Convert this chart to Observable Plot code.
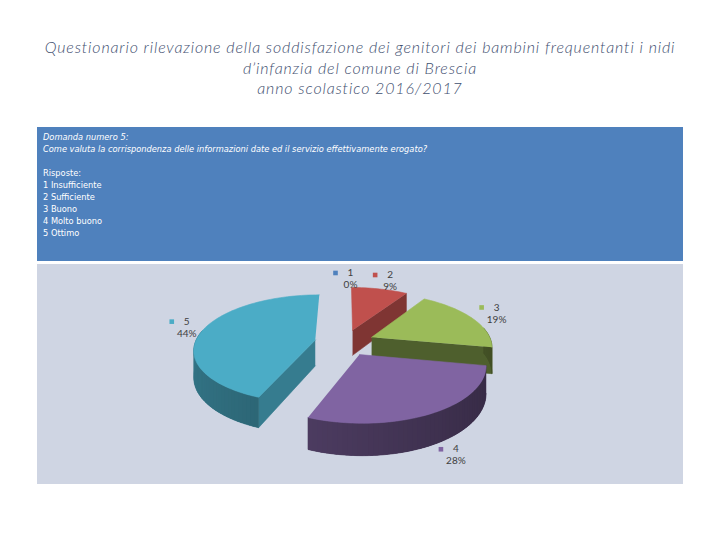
<!DOCTYPE html>
<html><head><meta charset="utf-8">
<script src="https://cdn.jsdelivr.net/npm/d3@7"></script>
<script src="https://cdn.jsdelivr.net/npm/@observablehq/plot@0.6"></script>
<style>
body{margin:0;width:720px;height:540px;background:#fff;position:relative;overflow:hidden;}
#title{position:absolute;top:37px;left:0;width:720px;text-align:center;font-family:Lato,"Open Sans",sans-serif;font-style:italic;font-weight:300;font-size:16px;letter-spacing:0.85px;line-height:20.5px;color:#3F5070;}
#header{position:absolute;left:37px;top:127px;width:646px;height:134px;background:#4F81BD;color:#fff;font-family:"Liberation Sans Narrow","DejaVu Sans Condensed",sans-serif;font-size:9.2px;line-height:12px;padding:4px 6px;box-sizing:border-box;}
#header .q{font-style:italic;}
#chart{position:absolute;left:37px;top:264px;}
</style></head><body>
<div id="title"></div><div id="header"></div><div id="chart"></div>
<script>
const titleLines = [
  "Questionario rilevazione della soddisfazione dei genitori dei bambini frequentanti i nidi",
  "d’infanzia del comune di Brescia",
  "anno scolastico 2016/2017"
];
const questionLines = [
  "Domanda numero 5:",
  "Come valuta la corrispondenza delle informazioni date ed il servizio effettivamente erogato?"
];
const answersHeading = "Risposte:";
const answerLabels = ["1 Insufficiente","2 Sufficiente","3 Buono","4 Molto buono","5 Ottimo"];

const categories = ["1","2","3","4","5"];
const percents = [0, 9, 19, 28, 44];
const percentLabels = ["0%","9%","19%","28%","44%"];
const sliceColors = ["#4F81BD","#C0504D","#9BBB59","#8064A2","#4BACC6"];

// text blocks
document.getElementById("title").innerHTML = titleLines.map(t => `<div>${t}</div>`).join("");
document.getElementById("header").innerHTML =
  questionLines.map(t => `<div class="q">${t}</div>`).join("") +
  `<div>&nbsp;</div><div>${answersHeading}</div>` +
  answerLabels.map(t => `<div>${t}</div>`).join("");

// 3D exploded pie geometry (perspective)
const W = 646, H = 220;
const cx = 307, cy = 78;            // pie centre inside the svg
const pxPerU = 120, pxPerV = 53.2;  // scale factors
const D = 6.2, explode = 0.25, thick = 0.49;
const proj = (X, Z, down) => { const d = D + Z; return [X * D / d, (Z - (down ? thick : 0)) * D / d]; };
const shade = (c, k) => d3.interpolateRgb(c, "#000")(k);

const arcs = d3.pie().sort(null).value(d => d)(percents);
const slices = arcs.map((a, i) => {
  const m = (a.startAngle + a.endAngle) / 2;
  return {i, a: a.startAngle, b: a.endAngle, m, ox: explode * Math.sin(m), oz: explode * Math.cos(m)};
});

let pid = 0;
function poly(target, pts, fill, stroked = true) {
  const id = pid++;
  for (const [x, y] of pts) target.push({id, x, y, fill, stroke: stroked ? fill : "none"});
}
const pt = (s, r, t, down) => proj(s.ox + r * Math.sin(t), s.oz + r * Math.cos(t), down);

const all = [];
const order = slices.filter(s => s.b - s.a > 1e-6).sort((p, q) => q.oz - p.oz);
for (const s of order) {
  const col = sliceColors[s.i];
  // radial faces
  const radial = (t, nz) => {
    poly(all, [pt(s, 0, t, false), pt(s, 1, t, false), pt(s, 1, t, true), pt(s, 0, t, true)],
         shade(col, Math.max(0.18, 0.15 - 0.35 * nz)));
  };
  if (Math.sin(s.a) < -1e-6) radial(s.a, Math.sin(s.a));
  if (Math.sin(s.b) > 1e-6) radial(s.b, -Math.sin(s.b));
  // outer wall: base band, then overlapping shading segments
  const n = Math.max(2, Math.ceil((s.b - s.a) / (Math.PI / 90)));
  const step = (s.b - s.a) / n;
  const ts = d3.range(n + 1).map(j => s.a + step * j).filter(t => Math.cos(t) < 0.2);
  if (ts.length > 1) {
    const band = ts.map(t => pt(s, 1, t, false)).concat(ts.slice().reverse().map(t => pt(s, 1, t, true)));
    const tmid = (ts[0] + ts[ts.length - 1]) / 2;
    poly(all, band, shade(col, 0.45 + 0.12 * Math.sin(tmid)));
    const tEnd = ts[ts.length - 1];
    for (let j = 0; j < ts.length - 1; j++) {
      const t0 = ts[j], t1 = Math.min(tEnd, ts[j + 1] + step * 0.6), tm = (ts[j] + ts[j + 1]) / 2;
      poly(all, [pt(s, 1, t0, false), pt(s, 1, t1, false), pt(s, 1, t1, true), pt(s, 1, t0, true)],
           shade(col, 0.45 + 0.12 * Math.sin(tm)), false);
    }
  }
  // top face
  const top = [pt(s, 0, 0, false)];
  for (let j = 0; j <= n; j++) top.push(pt(s, 1, s.a + step * j, false));
  poly(all, top, col);
}

// label anchors
const labels = slices.map(s => {
  const rl = 1.2;
  const X = s.ox + rl * Math.sin(s.m), Z = s.oz + rl * Math.cos(s.m);
  const [x, y0] = proj(X, Z, false);
  const y = y0 - thick * D / (D + Z) * Math.max(0, -Math.cos(s.m));
  return {x, y, cat: categories[s.i], pct: percentLabels[s.i], color: sliceColors[s.i]};
});

const chart = Plot.plot({
  width: W, height: H, margin: 0,
  x: {domain: [-cx / pxPerU, (W - cx) / pxPerU], axis: null},
  y: {domain: [-(H - cy) / pxPerV, cy / pxPerV], axis: null},
  color: {type: "identity"},
  style: {background: "#CFD5E3", fontFamily: "Lato, 'Liberation Sans', sans-serif"},
  marks: [
    Plot.line(all, {x: "x", y: "y", z: "id", fill: "fill", stroke: "stroke", strokeWidth: 0.6, curve: "linear"}),
    Plot.dot(labels, {x: "x", y: "y", symbol: "square", r: 2.6, fill: "color", stroke: null, dx: -9, dy: -7}),
    Plot.text(labels, {x: "x", y: "y", text: "cat", dx: 6, dy: -7, fill: "#404040", fontSize: 10}),
    Plot.text(labels, {x: "x", y: "y", text: "pct", dx: 6, dy: 5, fill: "#404040", fontSize: 10})
  ]
});
document.getElementById("chart").appendChild(chart);
</script>
</body></html>
